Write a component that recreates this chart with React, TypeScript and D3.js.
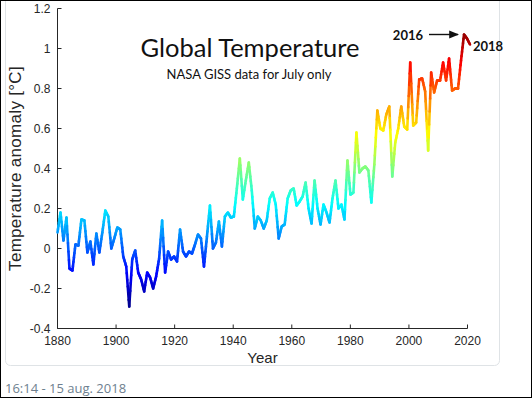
import React from 'react'
import * as d3 from 'd3'

// July anomalies, one value per year from 1880
const firstYear = 1880
const temps = [
  0.08, 0.18, 0.04, 0.155, -0.10, -0.11, 0.02, 0.015, 0.145, 0.14,      // 1880s
  -0.02, 0.035, -0.08, 0.075, -0.02, 0.08, 0.19, 0.16, 0.0, 0.05,       // 1890s
  0.105, 0.095, -0.04, -0.09, -0.29, -0.055, -0.01, -0.12, -0.155, -0.215, // 1900s
  -0.12, -0.145, -0.2, -0.14, -0.05, 0.14, -0.12, -0.015, -0.055, -0.04, // 1910s
  -0.065, 0.095, -0.015, -0.04, -0.015, -0.025, 0.02, 0.07, 0.05, -0.09, // 1920s
  0.06, 0.215, 0.0, 0.03, 0.135, 0.01, 0.16, 0.18, 0.155, 0.16,         // 1930s
  0.3, 0.45, 0.245, 0.34, 0.43, 0.29, 0.1, 0.16, 0.14, 0.1,             // 1940s
  0.14, 0.25, 0.28, 0.22, 0.05, 0.11, 0.12, 0.25, 0.29, 0.3,            // 1950s
  0.215, 0.235, 0.26, 0.33, 0.2, 0.125, 0.34, 0.2, 0.12, 0.22,          // 1960s
  0.18, 0.13, 0.25, 0.34, 0.2, 0.22, 0.145, 0.44, 0.27, 0.28,           // 1970s
  0.58, 0.38, 0.4, 0.41, 0.39, 0.23, 0.42, 0.69, 0.6, 0.59,             // 1980s
  0.67, 0.71, 0.36, 0.53, 0.6, 0.71, 0.61, 0.595, 0.93, 0.615,          // 1990s
  0.63, 0.845, 0.85, 0.785, 0.49, 0.88, 0.78, 0.84, 0.84, 0.93,         // 2000s
  0.84, 0.95, 0.79, 0.8, 0.8, 0.94, 1.07, 1.05, 1.02                    // 2010s
]
const lastYear = firstYear + temps.length - 1

const xTicks = [1880, 1900, 1920, 1940, 1960, 1980, 2000, 2020]
const yTicks = [-0.4, -0.2, 0, 0.2, 0.4, 0.6, 0.8, 1, 1.2]
const yTickLabels = ['-0.4', '-0.2', '0', '0.2', '0.4', '0.6', '0.8', '1', '1.2']

const W = 532
const H = 398
const plot = { left: 57.5, right: 467.5, top: 8.5, bottom: 328.5 }
const axisColor = '#262626'
const tickFont = '"Liberation Sans", Arial, sans-serif'
const titleFont = 'Lato, "Open Sans", sans-serif'

// matlab jet colormap
function jet(t: number) {
  const c = (v: number) => Math.round(255 * Math.max(0, Math.min(1, v)))
  const r = c(1.5 - Math.abs(4 * t - 3))
  const g = c(1.5 - Math.abs(4 * t - 2))
  const b = c(1.5 - Math.abs(4 * t - 1))
  return `rgb(${r},${g},${b})`
}

export default function App() {
  const x = d3.scaleLinear().domain([1880, 2020]).range([plot.left, plot.right])
  // the series is spread over the whole axis width in the original
  const xData = d3.scaleLinear().domain([firstYear, lastYear]).range([plot.left, 470])
  const y = d3.scaleLinear().domain([-0.4, 1.2]).range([plot.bottom, plot.top])
  const norm = d3.scaleLinear().domain([-0.3, 1.1]).range([0, 1]).clamp(true)

  const pts = temps.map((v, i) => ({ px: xData(firstYear + i), py: y(v), v }))

  // split every segment so the colour runs smoothly along the line
  const steps = 6
  const segs: { x1: number; y1: number; x2: number; y2: number; c: string }[] = []
  for (let i = 0; i < pts.length - 1; i++) {
    const a = pts[i]
    const b = pts[i + 1]
    for (let k = 0; k < steps; k++) {
      const t0 = k / steps
      const t1 = (k + 1) / steps
      const tm = (t0 + t1) / 2
      segs.push({
        x1: a.px + (b.px - a.px) * t0,
        y1: a.py + (b.py - a.py) * t0,
        x2: a.px + (b.px - a.px) * t1,
        y2: a.py + (b.py - a.py) * t1,
        c: jet(norm(a.v + (b.v - a.v) * tm))
      })
    }
  }

  const x2016 = xData(2016)
  const y2016 = y(temps[2016 - firstYear])
  const x2018 = xData(2018)
  const y2018 = y(temps[2018 - firstYear])

  return (
    <svg width={W} height={H} style={{ position: 'absolute', left: 0, top: 0, background: '#fff' }}>
      <defs>
        <marker id="arrowhead" viewBox="0 0 10 10" refX="9" refY="5" markerWidth="7" markerHeight="7" orient="auto">
          <path d="M0,1 L10,5 L0,9 z" fill="#111" />
        </marker>
      </defs>

      {/* card */}
      <rect x={5.5} y={-10} width={494} height={375.5} rx={5} fill="none" stroke="#dfe3e6" />

      {/* axes */}
      <line x1={plot.left} x2={plot.left} y1={plot.top} y2={plot.bottom} stroke={axisColor} />
      <line x1={plot.left} x2={plot.right} y1={plot.bottom} y2={plot.bottom} stroke={axisColor} />
      {yTicks.map((t, i) => (
        <g key={t}>
          <line x1={plot.left} x2={plot.left + 4} y1={y(t)} y2={y(t)} stroke={axisColor} />
          <text x={plot.left - 7} y={y(t)} dy="0.35em" textAnchor="end" fontSize={12} fontFamily={tickFont} fill={axisColor}>
            {yTickLabels[i]}
          </text>
        </g>
      ))}
      {xTicks.map(t => (
        <g key={t}>
          <line x1={x(t)} x2={x(t)} y1={plot.bottom} y2={plot.bottom - 4} stroke={axisColor} />
          <text x={x(t)} y={plot.bottom + 16} textAnchor="middle" fontSize={12} fontFamily={tickFont} fill={axisColor}>
            {t}
          </text>
        </g>
      ))}
      <text x={(plot.left + plot.right) / 2} y={363} textAnchor="middle" fontSize={15} fontFamily={tickFont} fill={axisColor}>
        Year
      </text>
      <text transform={`translate(21,${(plot.top + plot.bottom) / 2}) rotate(-90)`} textAnchor="middle" fontSize={17} letterSpacing={0.3} fontFamily={tickFont} fill={axisColor}>
        Temperature anomaly [°C]
      </text>

      {/* data line */}
      <g strokeWidth={2.6} strokeLinecap="round">
        {segs.map((s, i) => (
          <line key={i} x1={s.x1} y1={s.y1} x2={s.x2} y2={s.y2} stroke={s.c} />
        ))}
      </g>

      {/* titles */}
      <text x={250} y={57} textAnchor="middle" fontSize={25.5} fontFamily={titleFont} fill="#111">
        Global Temperature
      </text>
      <text x={249} y={79} textAnchor="middle" fontSize={13} fontFamily={titleFont} fill="#111">
        NASA GISS data for July only
      </text>

      {/* annotations */}
      <line x1={x2016 - 35} x2={x2016 - 6} y1={y2016} y2={y2016} stroke="#111" strokeWidth={1.4} markerEnd="url(#arrowhead)" />
      <text x={x2016 - 41} y={y2016 + 5} textAnchor="end" fontSize={13} fontWeight="bold" fontFamily={titleFont} fill="#111">
        2016
      </text>
      <text x={x2018 + 3} y={y2018 + 6} fontSize={13} fontWeight="bold" fontFamily={titleFont} fill="#111">
        2018
      </text>

      {/* footer */}
      <text x={5} y={393} fontSize={13} fontFamily='"Open Sans", sans-serif' fill="#6e7f8f">
        16:14 - 15 aug. 2018
      </text>

      {/* outer frame */}
      <rect x={0.5} y={0.5} width={W - 1} height={H - 1} fill="none" stroke="#000" />
    </svg>
  )
}
